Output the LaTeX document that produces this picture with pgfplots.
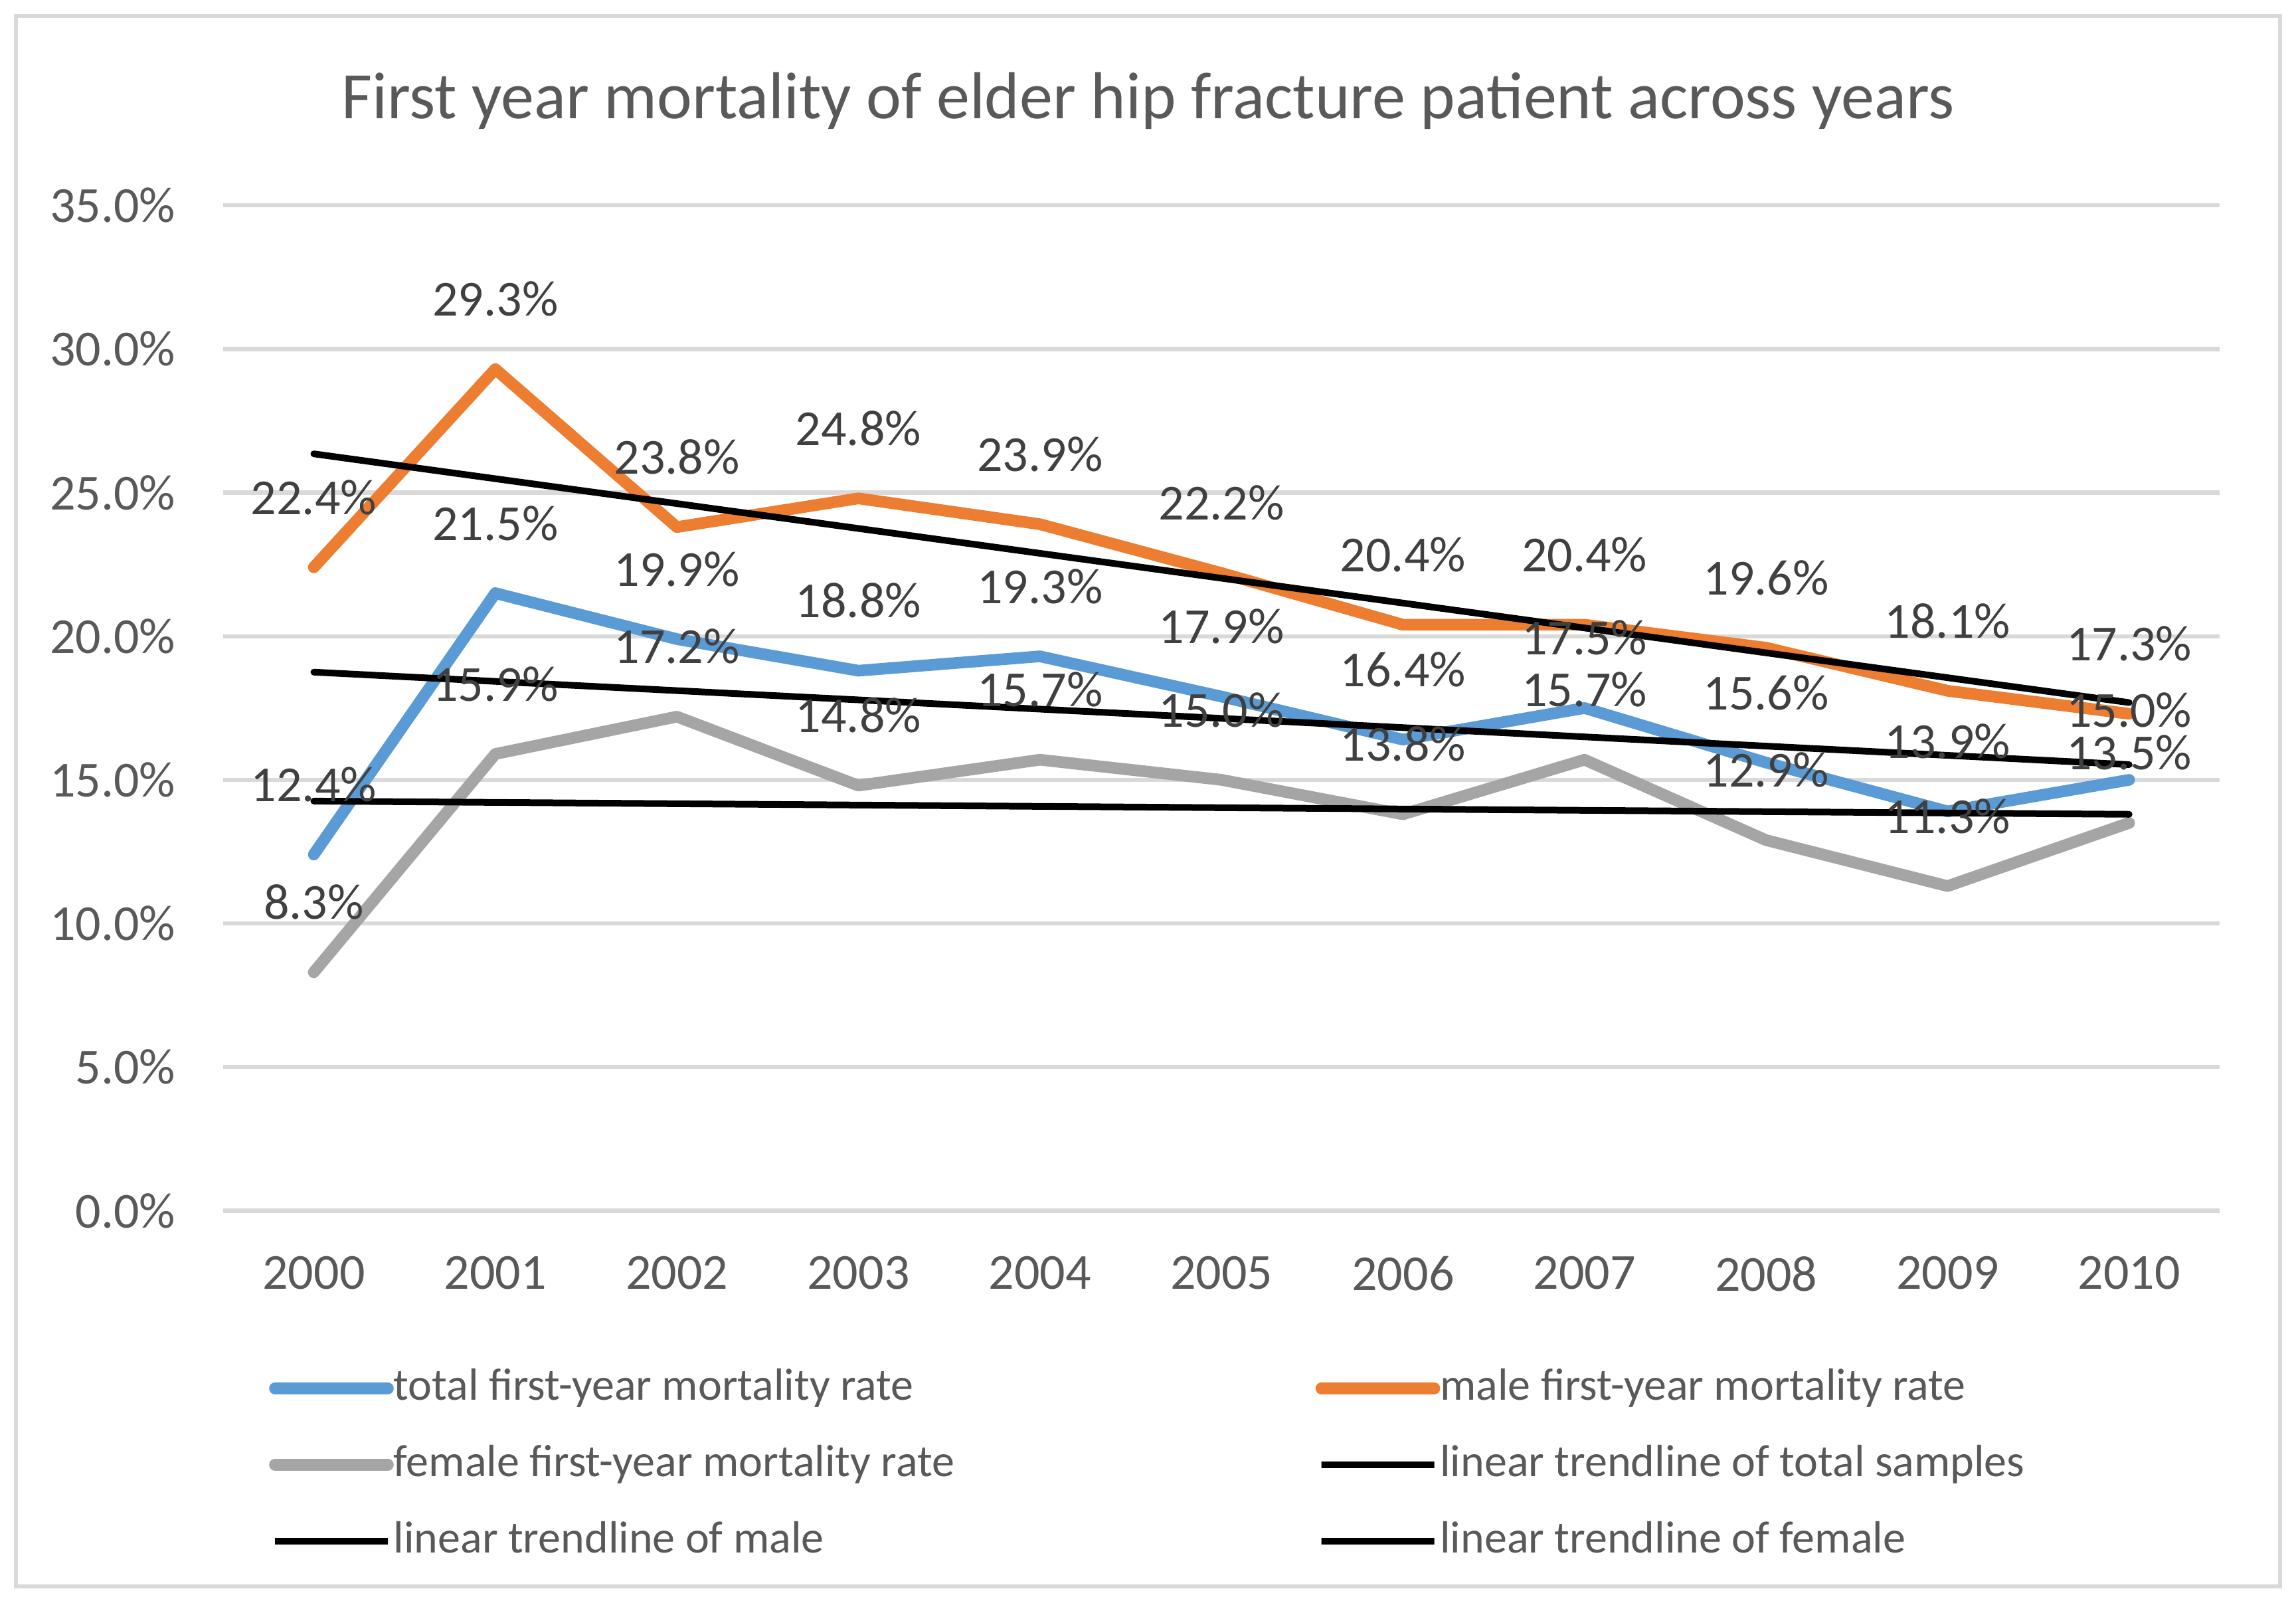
\documentclass[border=0pt]{standalone}
\usepackage{fontspec}
\setmainfont{Carlito}
\usepackage{pgfplots}
\pgfplotsset{compat=1.18}
\definecolor{cblue}{HTML}{5B9BD5}
\definecolor{corange}{HTML}{ED7D31}
\definecolor{cgray}{HTML}{A5A5A5}
\definecolor{cgrid}{HTML}{D9D9D9}
\definecolor{ctext}{HTML}{595959}
\definecolor{clabel}{HTML}{404040}
\begin{document}
\begin{tikzpicture}
\useasboundingbox (0,0) rectangle (864.25pt,603pt);
\fill[white] (0,0) rectangle (864.25pt,603pt);
\draw[cgrid, line width=1.5pt] (6pt,6pt) rectangle (858.25pt,597pt);
\node[anchor=base, inner sep=0pt, font=\fontsize{25}{30}\selectfont, text=ctext] at (432.1pt,558.3pt) {First year mortality of elder hip fracture patient across years};
\begin{axis}[
  at={(83.95pt,147.4pt)}, anchor=south west,
  scale only axis, width=751.65pt, height=378.3pt,
  xmin=-0.5, xmax=10.5, ymin=0, ymax=35,
  xtick={0,1,2,3,4,5,6,7,8,9,10},
  xticklabels={2000,2001,2002,2003,2004,2005,2006,2007,2008,2009,2010},
  ytick={0,5,10,15,20,25,30,35},
  /pgf/number format/assume math mode=true,
  yticklabel={\pgfmathprintnumber[fixed,fixed zerofill,precision=1]{\tick}\%},
  ymajorgrids, major grid style={cgrid, line width=1.6pt},
  axis line style={draw=none}, major tick length=0pt,
  tick label style={font=\fontsize{19}{22}\selectfont, text=ctext, inner sep=0pt},
  yticklabel style={anchor=east, xshift=-17.7pt},
  xticklabel style={anchor=north, yshift=-17pt},
  clip=false,
  every node near coord/.append style={font=\fontsize{19}{22}\selectfont, text=clabel, anchor=south, inner sep=0pt, yshift=17.6pt},
  legend columns=2,
  legend cell align=left,
  legend style={at={(0.02308,-0.15306)}, anchor=north west, draw=none, fill=none, inner sep=0pt, outer sep=0pt, column sep=0pt, row sep=10.7pt,
    nodes={inner sep=0pt, text height=13.4pt, text depth=4.6pt, font=\fontsize{17}{20}\selectfont, text=ctext}},
  legend image code/.code={\path (0pt,0pt) rectangle (42.5pt,0pt); \draw[#1] (2pt,0pt) -- (39pt,0pt);},
]
\addplot[cblue, line width=4.4pt, line cap=round, line join=round,
  nodes near coords={\pgfmathprintnumber[fixed,fixed zerofill,precision=1]{\pgfplotspointmeta}\%}]
  coordinates {(0,12.4) (1,21.5) (2,19.9) (3,18.8) (4,19.3) (5,17.9) (6,16.4) (7,17.5) (8,15.6) (9,13.9) (10,15.0)};
\addlegendentry{\makebox[347pt][l]{total first-year mortality rate}}
\addplot[corange, line width=4.4pt, line cap=round, line join=round,
  nodes near coords={\pgfmathprintnumber[fixed,fixed zerofill,precision=1]{\pgfplotspointmeta}\%}]
  coordinates {(0,22.4) (1,29.3) (2,23.8) (3,24.8) (4,23.9) (5,22.2) (6,20.4) (7,20.4) (8,19.6) (9,18.1) (10,17.3)};
\addlegendentry{male first-year mortality rate}
\addplot[cgray, line width=4.4pt, line cap=round, line join=round,
  nodes near coords={\pgfmathprintnumber[fixed,fixed zerofill,precision=1]{\pgfplotspointmeta}\%}]
  coordinates {(0,8.3) (1,15.9) (2,17.2) (3,14.8) (4,15.7) (5,15.0) (6,13.8) (7,15.7) (8,12.9) (9,11.3) (10,13.5)};
\addlegendentry{\makebox[347pt][l]{female first-year mortality rate}}
\addplot[black, line width=2.5pt, line cap=round] coordinates {(0,18.75) (10,15.53)};
\addlegendentry{linear trendline of total samples}
\addplot[black, line width=2.5pt, line cap=round] coordinates {(0,26.35) (10,17.69)};
\addlegendentry{\makebox[347pt][l]{linear trendline of male}}
\addplot[black, line width=2.5pt, line cap=round] coordinates {(0,14.26) (10,13.80)};
\addlegendentry{linear trendline of female}
\end{axis}
\end{tikzpicture}
\end{document}
